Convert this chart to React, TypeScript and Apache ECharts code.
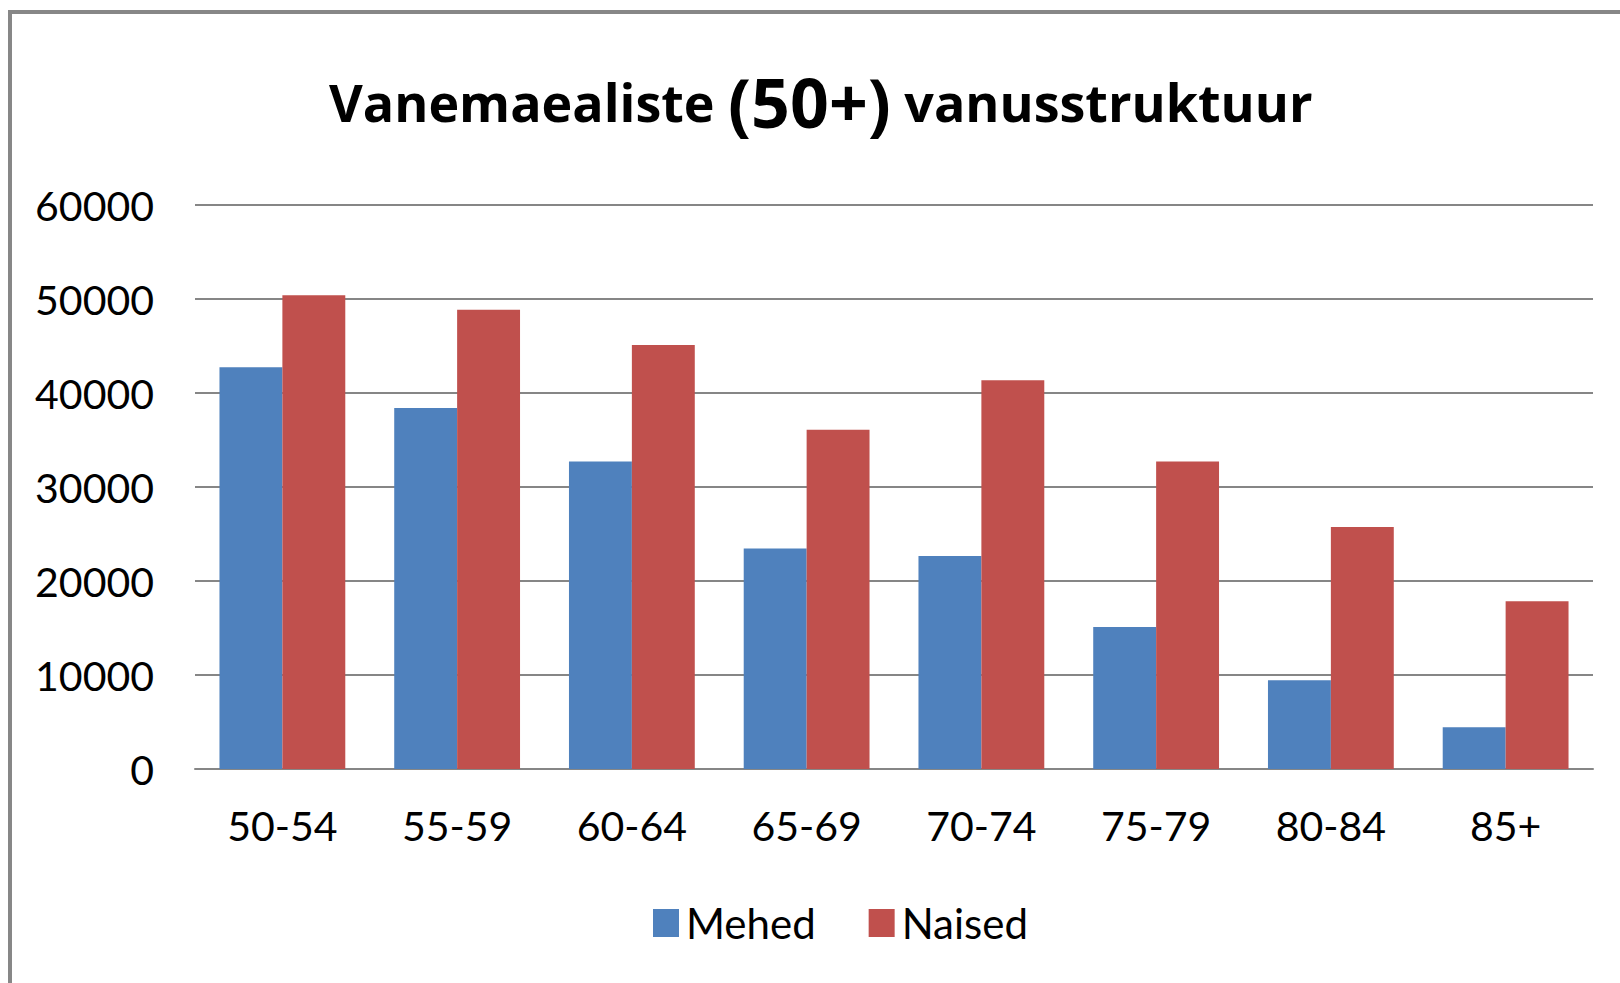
import React, { useEffect, useRef } from "react";
import * as echarts from "echarts";

const categories = ["50-54", "55-59", "60-64", "65-69", "70-74", "75-79", "80-84", "85+"];
const mehed = [42750, 38400, 32700, 23450, 22650, 15100, 9450, 4450];
const naised = [50400, 48850, 45100, 36100, 41350, 32700, 25750, 17850];
const yTicks = { min: 0, max: 60000, interval: 10000 };

export default function App() {
  const ref = useRef<HTMLDivElement>(null);
  useEffect(() => {
    const chart = echarts.init(ref.current!, null, { renderer: "svg" });
    chart.setOption({
      animation: false,
      backgroundColor: "#ffffff",
      textStyle: { fontFamily: "Lato" },
      title: {
        text: "{a|Vanemaealiste }{b|(50+)}{a| vanusstruktuur}",
        left: 324,
        top: 62,
        textStyle: {
          rich: {
            a: { fontFamily: "Open Sans", fontWeight: "bold", fontSize: 52, color: "#000" },
            b: { fontFamily: "Open Sans", fontWeight: "bold", fontSize: 68, color: "#000" },
          },
        },
      },
      graphic: [
        {
          type: "rect",
          shape: { x: 10, y: 12, width: 1700, height: 1100 },
          style: { fill: "none", stroke: "#878787", lineWidth: 4 },
        },
      ],
      legend: {
        left: 648,
        top: 897,
        itemWidth: 26,
        itemHeight: 28,
        itemGap: 53,
        icon: "rect",
        textStyle: { fontFamily: "Lato", fontSize: 42, color: "#000", padding: [0, 0, 0, 2] },
        data: ["Mehed", "Naised"],
      },
      grid: { left: 195, right: 27, top: 205, bottom: 214 },
      xAxis: {
        type: "category",
        data: categories,
        axisLine: { lineStyle: { color: "#868686", width: 2 } },
        axisTick: { show: false },
        axisLabel: { fontFamily: "Lato", fontSize: 41, color: "#000", margin: 36 },
      },
      yAxis: {
        type: "value",
        min: yTicks.min,
        max: yTicks.max,
        interval: yTicks.interval,
        axisLine: { show: false },
        axisTick: { show: false },
        splitLine: { lineStyle: { color: "#868686", width: 2 } },
        axisLabel: {
          fontFamily: "Lato",
          fontSize: 41,
          color: "#000",
          margin: 41,
          formatter: (v: number) => String(v),
        },
      },
      series: [
        {
          name: "Mehed",
          type: "bar",
          data: mehed,
          barGap: "0%",
          barCategoryGap: "28%",
          itemStyle: { color: "#4F81BD" },
        },
        {
          name: "Naised",
          type: "bar",
          data: naised,
          barGap: "0%",
          barCategoryGap: "28%",
          itemStyle: { color: "#C0504D" },
        },
      ],
    });
    return () => chart.dispose();
  }, []);
  return (
    <div
      ref={ref}
      style={{ position: "absolute", left: 0, top: 0, width: 1620, height: 983 }}
    />
  );
}
